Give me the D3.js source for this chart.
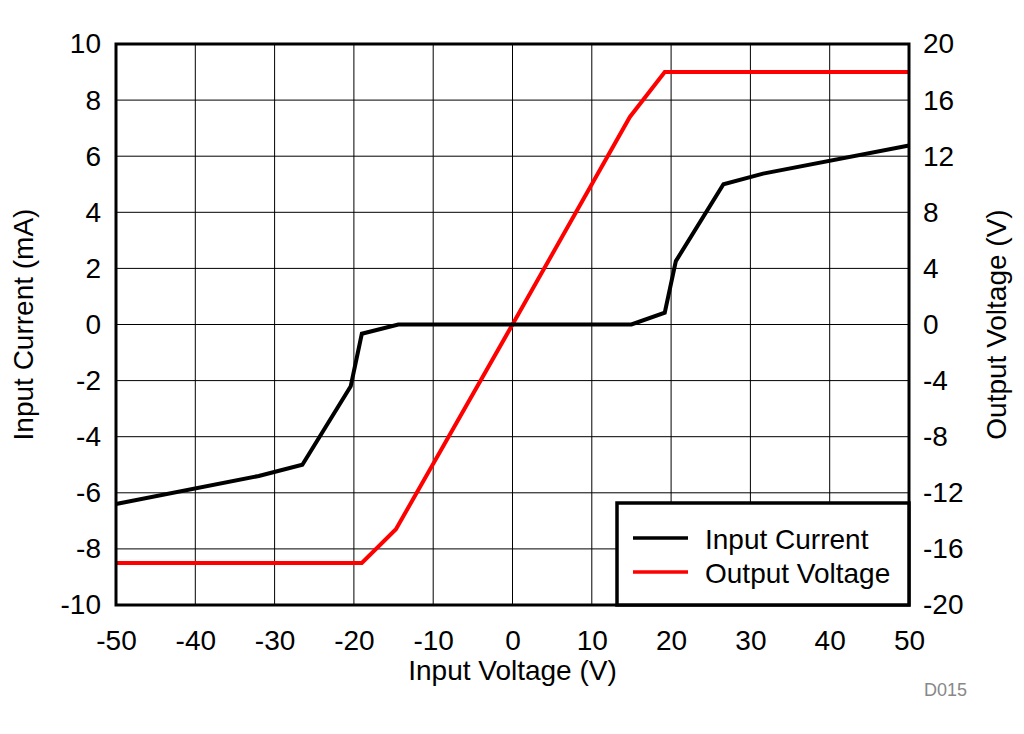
<!DOCTYPE html>
<html>
<head>
    <script src="https://d3js.org/d3.v7.min.js"></script>
</head>
<style>
body { margin: 0; background: #fff; }
text { font-family: "Liberation Sans", Arial, sans-serif; }
</style>
<body>
<div id="chart"></div>
<script>
    // Values
    var inputVoltage   = [-50, -32, -26.5, -20.4, -19, -14.4, 15, 19.2, 20.6, 26.6, 31.6, 50];
    var inputCurrent   = [-6.4, -5.4, -5.0, -2.2, -0.33, 0, 0, 0.42, 2.26, 5.0, 5.38, 6.38];
    var outVoltageX    = [-50, -19, -14.7, 0, 14.8, 19.2, 50];
    var outputVoltage  = [-17, -17, -14.6, 0, 14.8, 18, 18];
    var xTicks  = [-50, -40, -30, -20, -10, 0, 10, 20, 30, 40, 50];
    var yTicks  = [-10, -8, -6, -4, -2, 0, 2, 4, 6, 8, 10];
    var y2Ticks = [-20, -16, -12, -8, -4, 0, 4, 8, 12, 16, 20];

    var W = 1024, H = 734;
    var margin = {top: 44, right: 115, bottom: 129, left: 116};
    var width = W - margin.left - margin.right,
        height = H - margin.top - margin.bottom;

    var svg = d3.select("#chart").append("svg")
        .attr("width", W).attr("height", H);
    var g = svg.append("g")
        .attr("transform", "translate(" + margin.left + "," + margin.top + ")");

    var x = d3.scaleLinear().domain([-50, 50]).range([0, width]);
    var y = d3.scaleLinear().domain([-10, 10]).range([height, 0]);
    var y2 = d3.scaleLinear().domain([-20, 20]).range([height, 0]);

    // grid
    g.append("g").selectAll("line").data(xTicks).enter().append("line")
        .attr("x1", d => x(d)).attr("x2", d => x(d))
        .attr("y1", 0).attr("y2", height)
        .attr("stroke", "#000").attr("stroke-width", 1);
    g.append("g").selectAll("line").data(yTicks).enter().append("line")
        .attr("y1", d => y(d)).attr("y2", d => y(d))
        .attr("x1", 0).attr("x2", width)
        .attr("stroke", "#000").attr("stroke-width", 1);

    // axes (labels only, frame drawn separately)
    var fs = "28px";
    var xAxis = g.append("g").attr("transform", "translate(0," + height + ")")
        .call(d3.axisBottom(x).tickValues(xTicks).tickSize(0).tickPadding(25));
    var yAxis = g.append("g")
        .call(d3.axisLeft(y).tickValues(yTicks).tickSize(0).tickPadding(15));
    var y2Axis = g.append("g").attr("transform", "translate(" + width + ",0)")
        .call(d3.axisRight(y2).tickValues(y2Ticks).tickSize(0).tickPadding(14));
    [xAxis, yAxis, y2Axis].forEach(function(a) {
        a.select(".domain").remove();
        a.selectAll("text").attr("font-size", fs).attr("fill", "#000")
            .attr("font-family", "Liberation Sans, Arial, sans-serif")
            .text(d => d < 0 ? "-" + Math.abs(d) : d);
    });

    // lines
    var currentData = inputVoltage.map((v, i) => [v, inputCurrent[i]]);
    var voltageData = outVoltageX.map((v, i) => [v, outputVoltage[i]]);
    g.append("path").datum(voltageData)
        .attr("fill", "none").attr("stroke", "#ff0000").attr("stroke-width", 4)
        .attr("d", d3.line().x(d => x(d[0])).y(d => y2(d[1])));
    g.append("path").datum(currentData)
        .attr("fill", "none").attr("stroke", "#000").attr("stroke-width", 4)
        .attr("d", d3.line().x(d => x(d[0])).y(d => y(d[1])));

    // frame
    g.append("rect").attr("width", width).attr("height", height)
        .attr("fill", "none").attr("stroke", "#000").attr("stroke-width", 3);

    // legend
    var legend = g.append("g").attr("transform", "translate(" + (617 - margin.left) + "," + (503 - margin.top) + ")");
    legend.append("rect").attr("width", width - (617 - margin.left)).attr("height", height - (503 - margin.top))
        .attr("fill", "#fff").attr("stroke", "#000").attr("stroke-width", 3.5);
    var items = [["Input Current", "#000"], ["Output Voltage", "#ff0000"]];
    items.forEach(function(it, i) {
        var ly = 35 + i * 34;
        legend.append("line").attr("x1", 16).attr("x2", 71).attr("y1", ly).attr("y2", ly)
            .attr("stroke", it[1]).attr("stroke-width", 3.5);
        legend.append("text").attr("x", 88).attr("y", ly + 11)
            .attr("font-size", "28px").attr("fill", "#000").text(it[0]);
    });

    // axis titles
    svg.append("text").attr("x", margin.left + width / 2).attr("y", 680)
        .attr("text-anchor", "middle").attr("font-size", "28px").text("Input Voltage (V)");
    svg.append("text").attr("transform", "translate(33," + (margin.top + height / 2) + ") rotate(-90)")
        .attr("text-anchor", "middle").attr("font-size", "28px").text("Input Current (mA)");
    svg.append("text").attr("transform", "translate(1006," + (margin.top + height / 2) + ") rotate(-90)")
        .attr("text-anchor", "middle").attr("font-size", "28px").text("Output Voltage (V)");
    svg.append("text").attr("x", 967).attr("y", 696).attr("text-anchor", "end")
        .attr("font-size", "18px").attr("fill", "#888").text("D015");
</script>
</body>
</html>
